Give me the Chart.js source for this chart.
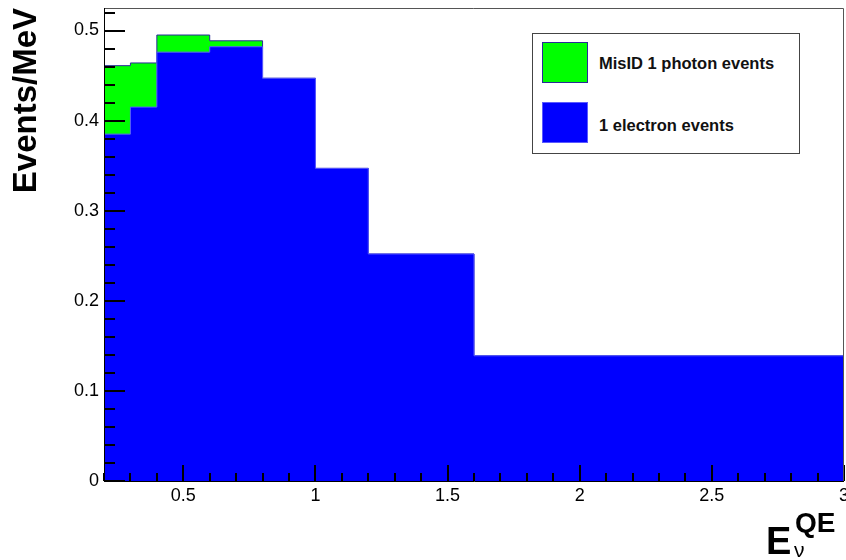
<!DOCTYPE html>
<html>
<head>
<meta charset="utf-8">
<script src="https://cdn.jsdelivr.net/npm/chart.js@4"></script>
<style>
  body { margin: 0; background: #fff; }
  #wrap { position: relative; width: 846px; height: 560px; font-family: "Liberation Sans", Arial, Helvetica, sans-serif; }
  #wrap canvas { position: absolute; left: 0; top: 0; }
  .legend { position: absolute; left: 532px; top: 33px; width: 266px; height: 119px; border: 1px solid #444; background: #fff; }
  .legend .sw { position: absolute; left: 9px; width: 46px; height: 41px; box-sizing: border-box; }
  .legend .lbl { position: absolute; left: 66px; font-weight: bold; font-size: 16.5px; line-height: 16px; color: #111; white-space: nowrap; }
  .xt { position: absolute; font-weight: bold; line-height: 1; color: #000; white-space: nowrap; }
</style>
</head>
<body>
<div id="wrap">
  <canvas id="c" width="846" height="560"></canvas>
  <div class="legend">
    <div class="sw" style="top:8px;background:#00ff00;border:1px solid #2a2a9a;"></div>
    <div class="lbl" style="top:21px;">MisID 1 photon events</div>
    <div class="sw" style="top:68px;background:#0000ff;border:1px solid #5a5aff;"></div>
    <div class="lbl" style="top:83px;">1 electron events</div>
  </div>
  <span class="xt" style="left:766px;top:522px;font-size:38px;">E</span>
  <span class="xt" style="left:795px;top:509px;font-size:28px;">QE</span>
  <span class="xt" style="left:794px;top:539px;font-size:21px;font-weight:normal;">ν</span>
</div>
<script>
// bin edges in E_nu^QE (GeV), values in events/MeV
const binEdges = [0.2, 0.3, 0.4, 0.6, 0.8, 1.0, 1.2, 1.6, 3.0];
const electronEvents = [0.385, 0.415, 0.476, 0.482, 0.447, 0.347, 0.252, 0.139];
const photonEvents = [0.076, 0.049, 0.019, 0.0066, 0, 0, 0, 0];
const yTicks = [0, 0.1, 0.2, 0.3, 0.4, 0.5];
const xTicks = [0.5, 1, 1.5, 2, 2.5, 3];

// histogram as stepped line: one point per left edge, last edge repeats last bin
function stepPoints(values) {
  return binEdges.map((x, i) => ({ x, y: values[Math.min(i, values.length - 1)] }));
}
const totalEvents = electronEvents.map((v, i) => v + photonEvents[i]);

Chart.defaults.font.family = '"Liberation Sans", Arial, Helvetica, sans-serif';
Chart.defaults.color = '#000';

const rootFrame = {
  id: 'rootFrame',
  afterDatasetsDraw(chart) {
    const { ctx, chartArea: a, scales: { x, y } } = chart;
    ctx.save();
    ctx.lineWidth = 2;
    ctx.strokeStyle = '#000';
    ctx.beginPath();
    // y ticks, minor every 0.02
    for (let k = 0; k <= 26; k++) {
      const py = Math.round(y.getPixelForValue(k / 50));
      const len = k % 5 === 0 ? 21 : 11;
      ctx.moveTo(a.left, py);
      ctx.lineTo(a.left + len, py);
    }
    // x ticks, minor every 0.1
    for (let k = 2; k <= 30; k++) {
      const px = Math.round(x.getPixelForValue(k / 10));
      const len = k % 5 === 0 ? 16 : 8;
      ctx.moveTo(px, a.bottom);
      ctx.lineTo(px, a.bottom - len);
    }
    ctx.stroke();
    ctx.lineWidth = 1;
    ctx.strokeStyle = '#555';
    ctx.beginPath();
    ctx.moveTo(a.left, a.top + 0.5);
    ctx.lineTo(a.right - 0.5, a.top + 0.5);
    ctx.lineTo(a.right - 0.5, a.bottom);
    ctx.stroke();
    ctx.strokeStyle = '#000';
    ctx.beginPath();
    ctx.moveTo(a.left + 0.5, a.top);
    ctx.lineTo(a.left + 0.5, a.bottom + 0.5);
    ctx.lineTo(a.right, a.bottom + 0.5);
    ctx.stroke();
    ctx.restore();
  }
};

new Chart(document.getElementById('c').getContext('2d'), {
  type: 'line',
  data: {
    datasets: [
      {
        label: '1 electron events',
        data: stepPoints(electronEvents),
        stepped: true,
        fill: 'origin',
        backgroundColor: '#0000ff',
        borderColor: '#5a5aff',
        borderWidth: 1,
      },
      {
        label: 'MisID 1 photon events',
        data: stepPoints(totalEvents),
        stepped: true,
        fill: 'origin',
        backgroundColor: '#00ff00',
        borderColor: '#2a2a9a',
        borderWidth: 1,
      },
    ],
  },
  options: {
    animation: false,
    responsive: false,
    layout: { padding: { top: 8, right: 2, left: 0, bottom: 0 } },
    elements: { point: { radius: 0, hoverRadius: 0 } },
    scales: {
      x: {
        type: 'linear',
        min: 0.2,
        max: 3.0,
        grid: { display: false, drawTicks: false },
        border: { display: false },
        afterBuildTicks: (s) => { s.ticks = xTicks.map((v) => ({ value: v })); },
        afterFit: (s) => { s.height = 79; s.paddingLeft = 0; s.paddingRight = 0; },
        ticks: {
          font: { size: 18 },
          padding: 4,
          maxRotation: 0,
          autoSkip: false,
          callback: (v) => String(v),
        },
      },
      y: {
        min: 0,
        max: 0.525,
        grid: { display: false, drawTicks: false },
        border: { display: false },
        afterBuildTicks: (s) => { s.ticks = yTicks.map((v) => ({ value: v })); },
        afterFit: (s) => { s.width = 104; s.paddingTop = 0; s.paddingBottom = 0; },
        ticks: {
          font: { size: 18 },
          padding: 5,
          callback: (v) => (v === 0 ? '0' : v.toFixed(1)),
        },
        title: {
          display: true,
          text: 'Events/MeV',
          align: 'end',
          font: { size: 33, weight: 'bold' },
          padding: { top: 7, bottom: 0 },
        },
      },
    },
    plugins: {
      legend: { display: false },
      tooltip: { enabled: false },
    },
  },
  plugins: [rootFrame],
});
</script>
</body>
</html>
